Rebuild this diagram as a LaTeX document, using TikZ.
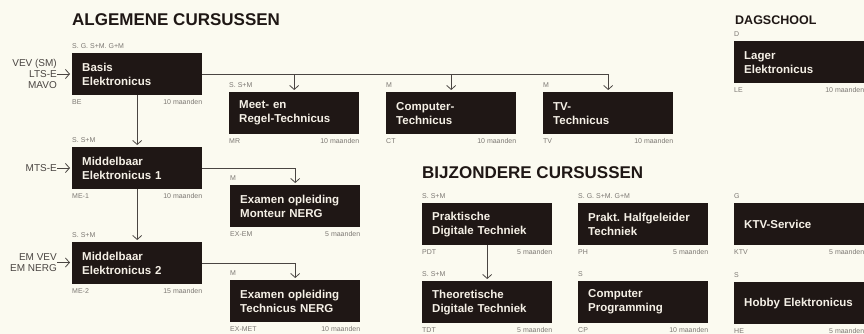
\documentclass[tikz,border=0pt]{standalone}
\usepackage{fontspec}
\setmainfont{Liberation Sans}
\usetikzlibrary{arrows.meta,positioning}
\frenchspacing

\definecolor{paper}{HTML}{FBFAF0}
\definecolor{boxfill}{HTML}{1F1715}
\definecolor{boxtext}{HTML}{F5F0E6}
\definecolor{lbl}{HTML}{7C7873}
\definecolor{wire}{HTML}{4A4542}

\tikzset{
  course/.style={rectangle, fill=boxfill, text=boxtext, anchor=north west,
    minimum width=130pt, minimum height=42pt, text width=110pt,
    inner xsep=10pt, inner ysep=0pt, align=left,
    font=\fontsize{11.5}{14}\selectfont\bfseries},
  req/.style={anchor=base west, inner sep=0pt, text=lbl, font=\fontsize{7}{8}\selectfont},
  code/.style={anchor=base west, inner sep=0pt, text=lbl, font=\fontsize{7}{8}\selectfont},
  dur/.style={anchor=base east, inner sep=0pt, text=lbl, font=\fontsize{7}{8}\selectfont},
  inlabel/.style={anchor=east, align=right, inner sep=0pt, text=wire,
    font=\fontsize{10}{11}\selectfont},
  heading/.style={anchor=base west, inner sep=0pt, text=boxfill,
    font=\fontsize{17}{17}\selectfont\bfseries},
  arr/.style={draw=wire, line width=0.8pt, -{Straight Barb[length=4pt,width=9pt]},
    shorten >=2pt}
}

\begin{document}
\begin{tikzpicture}[x=1pt,y=-1pt]
\fill[paper] (0,0) rectangle (864,334);
\useasboundingbox (0,0) rectangle (864,334);

% headings
\node[heading] (alg) at (72,26) {ALGEMENE CURSUSSEN};
\node[heading] (bij) at (422,178) {BIJZONDERE CURSUSSEN};
\node[heading, font=\fontsize{12.5}{13}\selectfont\bfseries] (dag) at (735,25) {DAGSCHOOL};

% algemene cursussen
\node[course] (be) at (72,53) {Basis\\Elektronicus};
\node[req] (be-r) at ([yshift=4.5pt]be.north west) {S. G. S+M. G+M};
\node[code] (be-c) at ([yshift=-9pt]be.south west) {BE};
\node[dur] (be-d) at ([yshift=-9pt]be.south east) {10 maanden};

\node[course] (me1) at (72,147) {Middelbaar\\Elektronicus 1};
\node[req] (me1-r) at ([yshift=4.5pt]me1.north west) {S. S+M};
\node[code] (me1-c) at ([yshift=-9pt]me1.south west) {ME-1};
\node[dur] (me1-d) at ([yshift=-9pt]me1.south east) {10 maanden};

\node[course] (me2) at (72,242) {Middelbaar\\Elektronicus 2};
\node[req] (me2-r) at ([yshift=4.5pt]me2.north west) {S. S+M};
\node[code] (me2-c) at ([yshift=-9pt]me2.south west) {ME-2};
\node[dur] (me2-d) at ([yshift=-9pt]me2.south east) {15 maanden};

\node[course] (mr) at (229,92) {Meet- en\\Regel-Technicus};
\node[req] (mr-r) at ([yshift=4.5pt]mr.north west) {S. S+M};
\node[code] (mr-c) at ([yshift=-9pt]mr.south west) {MR};
\node[dur] (mr-d) at ([yshift=-9pt]mr.south east) {10 maanden};

\node[course] (ct) at (386,92) {Computer-\\Technicus};
\node[req] (ct-r) at ([yshift=4.5pt]ct.north west) {M};
\node[code] (ct-c) at ([yshift=-9pt]ct.south west) {CT};
\node[dur] (ct-d) at ([yshift=-9pt]ct.south east) {10 maanden};

\node[course] (tv) at (543,92) {TV-\\Technicus};
\node[req] (tv-r) at ([yshift=4.5pt]tv.north west) {M};
\node[code] (tv-c) at ([yshift=-9pt]tv.south west) {TV};
\node[dur] (tv-d) at ([yshift=-9pt]tv.south east) {10 maanden};

\node[course] (exem) at (230,185) {Examen opleiding\\Monteur NERG};
\node[req] (exem-r) at ([yshift=4.5pt]exem.north west) {M};
\node[code] (exem-c) at ([yshift=-9pt]exem.south west) {EX-EM};
\node[dur] (exem-d) at ([yshift=-9pt]exem.south east) {5 maanden};

\node[course] (exmet) at (230,280) {Examen opleiding\\Technicus NERG};
\node[req] (exmet-r) at ([yshift=4.5pt]exmet.north west) {M};
\node[code] (exmet-c) at ([yshift=-9pt]exmet.south west) {EX-MET};
\node[dur] (exmet-d) at ([yshift=-9pt]exmet.south east) {10 maanden};

% bijzondere cursussen
\node[course] (pdt) at (422,203) {Praktische\\Digitale Techniek};
\node[req] (pdt-r) at ([yshift=4.5pt]pdt.north west) {S. S+M};
\node[code] (pdt-c) at ([yshift=-9pt]pdt.south west) {PDT};
\node[dur] (pdt-d) at ([yshift=-9pt]pdt.south east) {5 maanden};

\node[course] (tdt) at (422,281) {Theoretische\\Digitale Techniek};
\node[req] (tdt-r) at ([yshift=4.5pt]tdt.north west) {S. S+M};
\node[code] (tdt-c) at ([yshift=-9pt]tdt.south west) {TDT};
\node[dur] (tdt-d) at ([yshift=-9pt]tdt.south east) {5 maanden};

\node[course] (ph) at (578,203) {Prakt. Halfgeleider\\Techniek};
\node[req] (ph-r) at ([yshift=4.5pt]ph.north west) {S. G. S+M. G+M};
\node[code] (ph-c) at ([yshift=-9pt]ph.south west) {PH};
\node[dur] (ph-d) at ([yshift=-9pt]ph.south east) {5 maanden};

\node[course] (cp) at (578,281) {Computer\\Programming};
\node[req] (cp-r) at ([yshift=4.5pt]cp.north west) {S};
\node[code] (cp-c) at ([yshift=-9pt]cp.south west) {CP};
\node[dur] (cp-d) at ([yshift=-9pt]cp.south east) {10 maanden};

\node[course] (ktv) at (734,203) {KTV-Service};
\node[req] (ktv-r) at ([yshift=4.5pt]ktv.north west) {G};
\node[code] (ktv-c) at ([yshift=-9pt]ktv.south west) {KTV};
\node[dur] (ktv-d) at ([yshift=-9pt]ktv.south east) {5 maanden};

\node[course] (he) at (734,282) {Hobby Elektronicus};
\node[req] (he-r) at ([yshift=4.5pt]he.north west) {S};
\node[code] (he-c) at ([yshift=-9pt]he.south west) {HE};
\node[dur] (he-d) at ([yshift=-9pt]he.south east) {5 maanden};

% dagschool
\node[course] (le) at (734,41) {Lager\\Elektronicus};
\node[req] (le-r) at ([yshift=4.5pt]le.north west) {D};
\node[code] (le-c) at ([yshift=-9pt]le.south west) {LE};
\node[dur] (le-d) at ([yshift=-9pt]le.south east) {10 maanden};

% vooropleidingen
\node[inlabel] (in-be) at (57,74) {VEV (SM)\\LTS-E\\MAVO};
\node[inlabel] (in-me1) at (57,168) {MTS-E};
\node[inlabel] (in-me2) at (57,262.5) {EM VEV\\EM NERG};
\draw[arr] (in-be.east) -- (be.west |- in-be.east);
\draw[arr] (in-me1.east) -- (me1.west |- in-me1.east);
\draw[arr] (in-me2.east) -- (me2.west |- in-me2.east);

% doorstroming
\draw[arr] (be.east) -| (mr.north);
\draw[arr] (be.east) -| (ct.north);
\draw[arr] (be.east) -| (tv.north);
\draw[arr] (be.south) -- (me1.north);
\draw[arr] (me1.south) -- (me2.north);
\draw[arr] (me1.east) -| (exem.north);
\draw[arr] (me2.east) -| (exmet.north);
\draw[arr] (pdt.south) -- (tdt.north);

\end{tikzpicture}
\end{document}
